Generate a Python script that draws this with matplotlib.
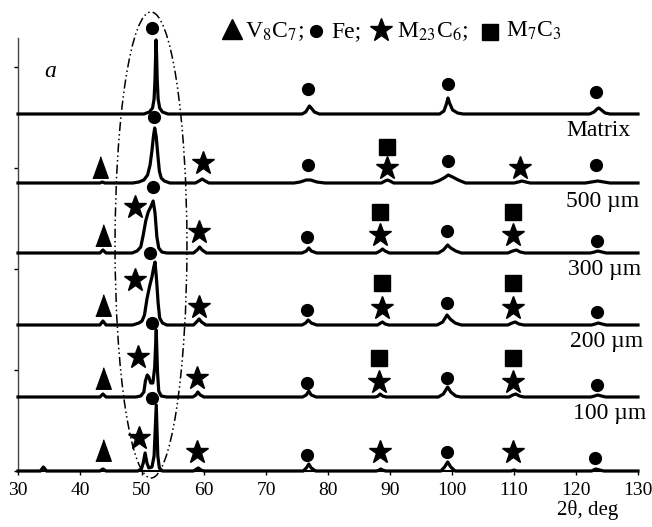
import numpy as np
import matplotlib
matplotlib.use("Agg")
import matplotlib.pyplot as plt
from matplotlib.patches import Ellipse
from matplotlib.lines import Line2D

plt.rcParams['font.family'] = ['Liberation Serif', 'DejaVu Sans']
plt.rcParams['mathtext.fontset'] = 'stix'

# XRD patterns (2theta, intensity above own baseline)
matrix = [(30, 0), (50.3, 0), (51.2, 2), (51.7, 6), (51.95, 15), (52.1, 35), (52.2, 60), (52.27, 74),
          (52.35, 60), (52.45, 35), (52.6, 15), (52.85, 6), (53.3, 2), (54.2, 0),
          (75.8, 0), (76.4, 2), (76.8, 6), (77.0, 8), (77.3, 6), (77.8, 2), (78.6, 0),
          (98.0, 0), (98.7, 3), (99.1, 10), (99.35, 16), (99.6, 11), (100.1, 4), (100.9, 1), (101.8, 0),
          (122.2, 0), (122.9, 2), (123.4, 5), (123.7, 6), (124.1, 4), (124.7, 1), (125.5, 0), (130, 0)]
um500 = [(30, 0), (43.2, 0), (43.6, 1), (44.0, 0), (48.5, 0), (49.5, 1), (50.3, 3), (50.9, 8), (51.3, 18),
         (51.6, 32), (51.85, 47), (52.05, 55), (52.3, 46), (52.55, 28), (52.8, 12), (53.1, 5), (53.6, 2), (54.5, 0),
         (58.6, 0), (59.2, 2), (59.7, 4), (60.2, 2), (60.8, 0),
         (74.5, 0), (75.5, 1), (76.5, 3), (77.2, 3), (78.2, 1), (79.5, 0),
         (88.6, 0), (89.2, 2), (89.6, 3), (90.0, 2), (90.6, 0),
         (96.8, 0), (97.8, 2), (98.7, 5), (99.4, 8), (100.1, 6), (101.0, 3), (102.2, 0),
         (110.0, 0), (110.7, 1), (111.3, 2), (111.9, 1), (112.6, 0),
         (121.5, 0), (122.5, 1), (123.5, 2), (124.5, 1), (125.5, 0), (130, 0)]
um300 = [(30, 0), (43.2, 0), (43.7, 3), (44.2, 0), (48.4, 0), (49.2, 2), (49.8, 6), (50.2, 18), (50.6, 32),
         (51.0, 41), (51.4, 46), (51.8, 52), (52.1, 40), (52.4, 16), (52.7, 5), (53.2, 1), (54, 0),
         (58.3, 0), (58.9, 3), (59.3, 6), (59.7, 3), (60.4, 0),
         (75.8, 0), (76.5, 2), (76.9, 5), (77.3, 2), (78.2, 0),
         (87.8, 0), (88.4, 2), (88.8, 4), (89.2, 2), (89.9, 0),
         (97.8, 0), (98.6, 3), (99.3, 8), (99.8, 5), (100.6, 2), (101.5, 0),
         (109.0, 0), (109.8, 2), (110.4, 3), (111.0, 1), (111.8, 0),
         (122.3, 0), (123.0, 1), (123.5, 2), (124.2, 1), (124.9, 0), (130, 0)]
um200 = [(30, 0), (43.2, 0), (43.7, 4), (44.2, 0), (48.5, 0), (49.5, 2), (50.0, 4), (50.4, 10), (50.8, 26),
         (51.2, 38), (51.6, 48), (51.9, 58), (52.1, 63), (52.35, 45), (52.6, 22), (52.85, 7), (53.3, 2), (54, 0),
         (58.3, 0), (58.8, 3), (59.2, 6), (59.6, 3), (60.3, 0),
         (75.8, 0), (76.4, 2), (76.8, 5), (77.3, 2), (78.2, 0),
         (88.0, 0), (88.5, 2), (88.8, 3), (89.2, 1), (89.8, 0),
         (97.6, 0), (98.5, 3), (99.2, 10), (99.7, 6), (100.5, 2), (101.5, 0),
         (109.0, 0), (109.7, 2), (110.2, 3), (110.8, 1), (111.6, 0),
         (122.5, 0), (123.1, 1), (123.6, 2), (124.2, 1), (124.9, 0), (130, 0)]
um100 = [(30, 0), (43.2, 0), (43.7, 3), (44.2, 0), (49.0, 0), (49.8, 1), (50.3, 5), (50.55, 16), (50.85, 22),
         (51.1, 20), (51.4, 14), (51.75, 14), (52.05, 30), (52.3, 67), (52.5, 25), (52.7, 6), (53.1, 1), (54, 0),
         (58.2, 0), (58.7, 2), (59.0, 5), (59.4, 2), (60.0, 0),
         (75.9, 0), (76.5, 2), (76.9, 6), (77.3, 2), (78.1, 0),
         (87.6, 0), (88.1, 1), (88.4, 3), (88.8, 1), (89.4, 0),
         (97.8, 0), (98.6, 3), (99.3, 10), (99.8, 5), (100.6, 1), (101.4, 0),
         (109.2, 0), (109.8, 2), (110.3, 3), (110.9, 1), (111.6, 0),
         (122.4, 0), (123.0, 1), (123.5, 2), (124.1, 1), (124.8, 0), (130, 0)]
bottom = [(30, 0), (33.6, 0), (34.1, 4), (34.6, 0), (43.2, 0), (43.7, 2), (44.2, 0), (49.3, 0), (49.9, 2),
          (50.2, 8), (50.5, 18), (50.8, 8), (51.1, 3), (51.6, 4), (51.95, 15), (52.3, 66), (52.55, 15),
          (52.8, 3), (53.3, 0),
          (58.3, 0), (58.8, 2), (59.1, 3), (59.5, 1), (60.0, 0),
          (76.0, 0), (76.5, 3), (76.9, 7), (77.3, 3), (78.0, 0),
          (87.8, 0), (88.3, 1), (88.5, 2), (88.8, 1), (89.3, 0),
          (98.2, 0), (98.8, 4), (99.3, 9), (99.8, 4), (100.5, 0),
          (109.5, 0), (110.0, 1), (110.5, 0),
          (122.5, 0), (123.2, 2), (123.8, 1), (124.5, 0), (130, 0)]

patterns = [bottom, um100, um200, um300, um500, matrix]
offsets = [0, 74, 146, 218, 288, 357]
sample_labels = ['100 µm', '200 µm', '300 µm', '500 µm', 'Matrix']
label_pos = [(119.5, 58), (119.0, 130), (118.7, 201), (118.4, 269), (118.4, 340)]

# phase markers (2theta, height)
fe_x = [51.6, 76.8, 99.4, 123.3, 52.0, 76.8, 99.4, 123.2, 51.8, 76.6, 99.2, 123.4,
        51.3, 76.6, 99.2, 123.4, 51.6, 76.6, 99.2, 123.4, 51.6, 76.6, 99.2, 123.1]
fe_y = [443, 382, 387, 379, 354, 306, 310, 306, 284, 234, 240, 230,
        218, 161, 168, 159, 148, 88, 93, 86, 73, 16, 19, 13]
v8c7_x = [43.2, 43.7, 43.7, 43.7, 43.7]
v8c7_y = [304, 236, 166, 93, 21]
m23c6_x = [59.8, 89.5, 111.0, 48.9, 59.2, 88.4, 109.9, 48.9, 59.2, 88.7, 109.8,
           49.4, 58.8, 88.2, 109.8, 49.5, 58.8, 88.4, 109.8]
m23c6_y = [308, 303, 303, 264, 239, 236, 236, 191, 164, 163, 163,
           114, 93, 89, 89, 33, 19, 19, 19]
m7c3_x = [89.5, 88.4, 109.9, 88.7, 109.8, 88.2, 109.8]
m7c3_y = [324, 259, 259, 188, 188, 113, 113]

tri = [(-0.36, -0.5), (0.36, -0.5), (0.0, 0.5)]

fig = plt.figure(figsize=(6.52, 5.27), dpi=100)
ax = fig.add_axes([18 / 652, 56 / 527, 620 / 652, 433 / 527])

ell = Ellipse((51.45, 226), 11.6, 466, fill=False, color='black', lw=1.1,
              ls=(0, (6, 2, 1, 2, 1, 2)), clip_on=False, zorder=1)
ax.add_patch(ell)

for pts, off in zip(patterns, offsets):
    arr = np.array(pts, dtype=float)
    ax.plot(arr[:, 0], arr[:, 1] + off, color='black', lw=2.3, zorder=3,
            solid_joinstyle='round', clip_on=False)

kw = dict(ls='none', color='black', clip_on=False, zorder=4)
ax.plot(fe_x, fe_y, marker='o', ms=8.5, **kw)
ax.plot(v8c7_x, v8c7_y, marker=tri, ms=15.5, **kw)
ax.plot(m23c6_x, m23c6_y, marker='*', ms=17, **kw)
ax.plot(m7c3_x, m7c3_y, marker='s', ms=12, **kw)

for lab, (lx, ly) in zip(sample_labels, label_pos):
    ax.text(lx, ly, lab, fontsize=17, ha='left', va='center')

ax.text(35.2, 399, 'a', fontsize=17, style='italic', ha='center', va='center')

ax.set_xlim(30, 130)
ax.set_ylim(0, 433)
ax.set_xticks(np.arange(30, 131, 10))
ax.set_yticks([0, 101, 202, 303, 404])
ax.set_yticklabels([])
ax.tick_params(axis='x', direction='out', length=3, width=1, labelsize=14, pad=5)
ax.tick_params(axis='y', direction='out', length=3, width=1)
for s in ['top', 'right']:
    ax.spines[s].set_visible(False)
ax.spines['left'].set_color('#444444')
ax.spines['left'].set_linewidth(1.0)
ax.spines['bottom'].set_linewidth(1.5)

fig.text(588 / 652, 1 - 510 / 527, '2θ, deg', fontsize=15, ha='center', va='center')

# legend line at the top
leg_y = 1 - 37 / 527
fig.add_artist(Line2D([232 / 652], [1 - 29 / 527], marker='^', ms=15, color='black',
                      ls='none', transform=fig.transFigure))
fig.text(245 / 652, leg_y, r'V$_8$C$_7$;', fontsize=17, va='baseline')
fig.add_artist(Line2D([316 / 652], [1 - 31 / 527], marker='o', ms=8.5, color='black',
                      ls='none', transform=fig.transFigure))
fig.text(331 / 652, leg_y, 'Fe;', fontsize=17, va='baseline')
fig.add_artist(Line2D([381 / 652], [1 - 30 / 527], marker='*', ms=17, color='black',
                      ls='none', transform=fig.transFigure))
fig.text(397 / 652, leg_y, r'M$_{23}$C$_6$;', fontsize=17, va='baseline')
fig.add_artist(Line2D([490 / 652], [1 - 32 / 527], marker='s', ms=11.5, color='black',
                      ls='none', transform=fig.transFigure))
fig.text(506 / 652, leg_y, r'M$_7$C$_3$', fontsize=17, va='baseline')

fig.savefig('out.png', dpi=100)
